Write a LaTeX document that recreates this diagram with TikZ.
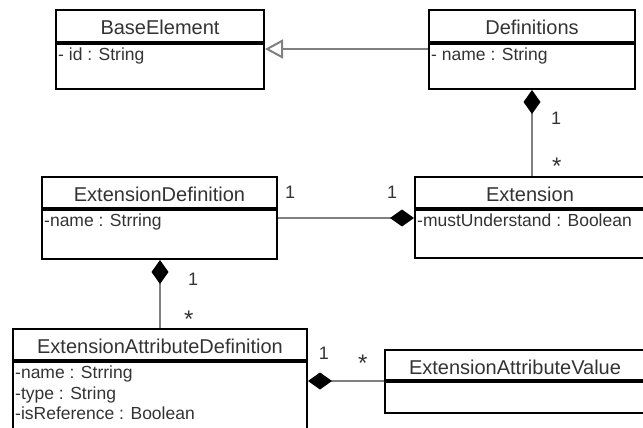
\documentclass[tikz,border=0pt]{standalone}
\usepackage{fontspec}
\setmainfont{Liberation Sans}
\usetikzlibrary{arrows.meta,calc}

\definecolor{txtgray}{HTML}{333333}
\definecolor{linegray}{HTML}{808080}

\tikzset{
	head/.style={draw=black, line width=2pt, text=txtgray, font=\fontsize{20}{24}\selectfont, inner sep=0pt, text height=18pt, text depth=0pt},
	body/.style={draw=black, line width=2pt, anchor=north, inner sep=0pt},
	attr/.style={anchor=north west, text=txtgray, font=\fontsize{17.5}{20.5}\selectfont, align=left, inner xsep=3pt, inner ysep=5pt},
	mult/.style={text=txtgray, font=\fontsize{18}{20}\selectfont, inner sep=1pt},
	many/.style={mult, font=\fontsize{24}{26}\selectfont},
	gen/.style={draw=linegray, line width=2pt, -{Triangle[open, length=18pt, width=19pt, fill=white]}},
	comp/.style={draw=linegray, line width=2pt, -{Diamond[length=24pt, width=17pt, color=black, fill=black]}},
}

\begin{document}
\begin{tikzpicture}[x=1pt,y=-1pt]
		\useasboundingbox (0,0) rectangle (643,428);
		% classes
		\node[head, minimum width=208pt, minimum height=32pt] (base) at (160,26) {BaseElement};
		\node[body, minimum width=208pt, minimum height=45pt] (base-body) at (base.south) {};
		\node[attr] (base-attr) at (base-body.north west) {- id : String};
		\node[head, minimum width=206pt, minimum height=32pt] (defs) at (532,26) {Definitions};
		\node[body, minimum width=206pt, minimum height=45pt] (defs-body) at (defs.south) {};
		\node[attr] (defs-attr) at (defs-body.north west) {- name : String};
		\node[head, minimum width=235pt, minimum height=31pt] (extdef) at (159.5,192.5) {ExtensionDefinition};
		\node[body, minimum width=235pt, minimum height=49pt] (extdef-body) at (extdef.south) {};
		\node[attr] (extdef-attr) at (extdef-body.north west) {-name : Strring};
		\node[head, minimum width=230pt, minimum height=31pt] (ext) at (530,192.5) {Extension};
		\node[body, minimum width=230pt, minimum height=48pt] (ext-body) at (ext.south) {};
		\node[attr] (ext-attr) at (ext-body.north west) {-mustUnderstand : Boolean};
		\node[head, minimum width=294pt, minimum height=31pt] (attrdef) at (160,344.5) {ExtensionAttributeDefinition};
		\node[body, minimum width=294pt, minimum height=72pt] (attrdef-body) at (attrdef.south) {};
		\node[attr] (attrdef-attr) at (attrdef-body.north west) {-name : Strring\\-type : String\\-isReference : Boolean};
		\node[head, minimum width=260pt, minimum height=30pt] (attrval) at (515,365) {ExtensionAttributeValue};
		\node[body, minimum width=260pt, minimum height=31pt] (attrval-body) at (attrval.south) {};
		% relations
		\draw[gen] ([yshift=-6pt]defs-body.north west) -- ([yshift=-6pt]base-body.north east);
		\draw[comp] (defs-body.south |- ext.north) -- (defs-body.south)
			node[mult, pos=.67, right=17pt] {1} node[many, pos=.111, right=18pt] {*};
		\draw[comp] ([yshift=-9pt]extdef-body.north east) -- ([yshift=-9pt]ext-body.north west)
			node[mult, pos=.09, above=18pt] {1} node[mult, pos=.84, above=18pt] {1};
		\draw[comp] (attrdef.north) -- (attrdef.north |- extdef-body.south)
			node[mult, pos=.71, right=26pt] {1} node[many, pos=.124, right=22pt] {*};
		\draw[comp, line width=1.2pt] (attrval-body.north west) -- (attrval-body.north west -| attrdef-body.east)
			node[mult, pos=.79, above=20pt] {1} node[many, pos=.28, above=8pt] {*};
		\end{tikzpicture}
\end{document}
